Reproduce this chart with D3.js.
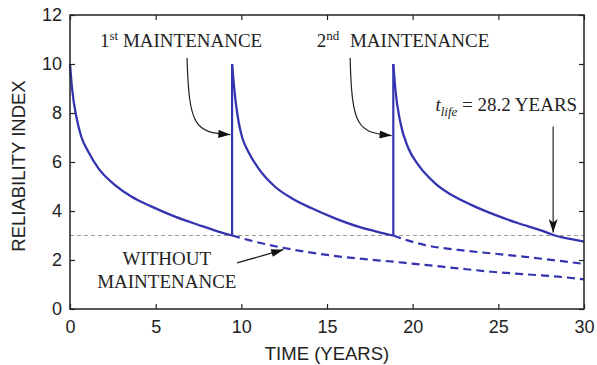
<!DOCTYPE html>
<meta charset="utf-8">
<html>
<head>
    <script src="https://d3js.org/d3.v7.min.js"></script>
</head>
<style>
    body { margin: 0; background: white; }
    .tick text { font: 18px "Liberation Sans", Arial, sans-serif; fill: #222; }
    .axislabel { font: 18.5px "Liberation Sans", Arial, sans-serif; fill: #222; }
    .note { font: 19px "Liberation Serif", "Times New Roman", serif; fill: #222; }
</style>
<body>
<div id="chartdiv"></div>
<script>

// values: time in years, reliability index
var xTicks = [0, 5, 10, 15, 20, 25, 30];
var yTicks = [0, 2, 4, 6, 8, 10, 12];
var threshold = 3;
var maintTimes = [9.46, 18.87];
var tLife = 28.2;

// solid curve, one piece between maintenances
var seg1 = [[0, 10], [0.12, 9.0], [0.4, 7.75], [0.65, 7.05], [1.07, 6.42], [1.66, 5.74],
    [2.63, 5.06], [3.6, 4.58], [4.77, 4.18], [6.13, 3.77], [7.5, 3.43], [8.66, 3.16], [9.46, 3.0]];
var seg2 = [[9.46, 10], [9.6, 8.9], [9.85, 7.6], [10.05, 7.0], [10.41, 6.42], [11.0, 5.74],
    [11.97, 4.99], [12.94, 4.52], [14.11, 4.11], [15.47, 3.70], [16.83, 3.36], [18.0, 3.14], [18.87, 3.0]];
var seg3 = [[18.87, 10], [19.0, 8.9], [19.27, 7.65], [19.75, 6.56], [20.33, 5.88], [21.31, 5.13],
    [22.28, 4.65], [23.45, 4.24], [24.81, 3.84], [26.17, 3.5], [27.53, 3.2], [28.3, 3.0], [29.1, 2.87], [30, 2.75]];

// dashed curves, no maintenance
var noMaint1 = [[9.46, 3.0], [10.5, 2.8], [12.5, 2.49], [15.4, 2.17], [18.87, 1.93],
    [20.72, 1.8], [22.5, 1.67], [24.6, 1.52], [26.5, 1.42], [28.5, 1.32], [30, 1.21]];
var noMaint2 = [[18.87, 3.0], [19.7, 2.8], [20.72, 2.61], [22.67, 2.41], [24.6, 2.27],
    [26.56, 2.13], [28.5, 1.97], [30, 1.84]];

// chart size
var width = 597, height = 365;
var margin = {left: 70, right: 13, top: 15, bottom: 56};
var plot = {width: width - margin.left - margin.right, height: height - margin.top - margin.bottom};

var svg = d3.select("#chartdiv")
    .append("svg")
        .attr("width", width)
        .attr("height", height);

var defs = svg.append("defs");
defs.append("marker")
    .attr("id", "head")
    .attr("viewBox", "0 0 12 8")
    .attr("refX", 12).attr("refY", 4)
    .attr("markerWidth", 13).attr("markerHeight", 8)
    .attr("markerUnits", "userSpaceOnUse")
    .attr("orient", "auto")
    .append("path").attr("d", "M0,0 L12,4 L0,8 Z").attr("fill", "#111");
defs.append("marker")
    .attr("id", "headNarrow")
    .attr("viewBox", "0 0 12 8")
    .attr("refX", 12).attr("refY", 4)
    .attr("markerWidth", 15).attr("markerHeight", 9)
    .attr("markerUnits", "userSpaceOnUse")
    .attr("orient", "auto")
    .append("path").attr("d", "M0,0 L12,4 L0,8 L3,4 Z").attr("fill", "#111");

var g = svg.append("g")
    .attr("transform", "translate(" + margin.left + "," + margin.top + ")");

var x = d3.scaleLinear().domain([0, 30]).range([0, plot.width]);
var y = d3.scaleLinear().domain([0, 12]).range([plot.height, 0]);

// threshold line
g.append("line")
    .attr("x1", x(0)).attr("x2", x(30))
    .attr("y1", y(threshold)).attr("y2", y(threshold))
    .attr("stroke", "#9a9a9a").attr("stroke-width", 1)
    .attr("stroke-dasharray", "4,3");

var line = d3.line()
    .x(function(d) { return x(d[0]); })
    .y(function(d) { return y(d[1]); })
    .curve(d3.curveMonotoneX);

var blue = "#3434b0";

// dashed curves
[noMaint1, noMaint2].forEach(function(s) {
    g.append("path").datum(s)
        .attr("d", line)
        .attr("fill", "none").attr("stroke", blue)
        .attr("stroke-width", 2.2).attr("stroke-dasharray", "8,5");
});

// solid curve pieces plus the jumps at maintenance
var segs = [seg1, seg2, seg3];
segs.forEach(function(s) {
    g.append("path").datum(s)
        .attr("d", line)
        .attr("fill", "none").attr("stroke", blue)
        .attr("stroke-width", 2.3).attr("stroke-linejoin", "round");
});
for (var i = 0; i < segs.length - 1; i++) {
    var a = segs[i][segs[i].length - 1], b = segs[i + 1][0];
    g.append("line")
        .attr("x1", x(a[0])).attr("y1", y(a[1]))
        .attr("x2", x(b[0])).attr("y2", y(b[1]))
        .attr("stroke", blue).attr("stroke-width", 2.2);
}

// axes, ticks inside on all four sides
function styleAxis(sel) {
    sel.select(".domain").remove();
    sel.selectAll(".tick line").attr("stroke", "#222").attr("stroke-width", 1.2);
}
g.append("g").attr("transform", "translate(0," + plot.height + ")")
    .call(d3.axisBottom(x).tickValues(xTicks).tickSize(-5).tickPadding(11))
    .call(styleAxis);
g.append("g")
    .call(d3.axisLeft(y).tickValues(yTicks).tickSize(-5).tickPadding(8))
    .call(styleAxis);
g.append("g")
    .call(d3.axisTop(x).tickValues(xTicks).tickSize(-5).tickFormat(""))
    .call(styleAxis);
g.append("g").attr("transform", "translate(" + plot.width + ",0)")
    .call(d3.axisRight(y).tickValues(yTicks).tickSize(-5).tickFormat(""))
    .call(styleAxis);
g.append("rect")
    .attr("width", plot.width).attr("height", plot.height)
    .attr("fill", "none").attr("stroke", "#222").attr("stroke-width", 1.5);

// axis titles
svg.append("text").attr("class", "axislabel")
    .attr("x", margin.left + plot.width / 2).attr("y", 360)
    .attr("text-anchor", "middle")
    .text("TIME (YEARS)");
svg.append("text").attr("class", "axislabel")
    .attr("transform", "translate(25," + (margin.top + plot.height / 2 + 4) + ") rotate(-90)")
    .attr("text-anchor", "middle")
    .text("RELIABILITY INDEX");

// maintenance labels
var maintLabels = [{t: 1.75, v: 10.68, n: "1", sup: "st", gap: 0},
    {t: 14.4, v: 10.68, n: "2", sup: "nd", gap: 6}];
maintLabels.forEach(function(d) {
    var txt = g.append("text").attr("class", "note")
        .attr("x", x(d.t)).attr("y", y(d.v));
    txt.append("tspan").text(d.n);
    txt.append("tspan").attr("dy", -7).style("font-size", "13px").text(d.sup);
    txt.append("tspan").attr("dy", 7).attr("dx", d.gap).text(" MAINTENANCE");
});

// curved arrows pointing at the jumps
var maintArrows = [
    {start: [6.83, 10.25], c1: [6.95, 7.4], c2: [7.3, 7.2], tip: [9.36, 7.12]},
    {start: [16.35, 10.25], c1: [16.45, 7.4], c2: [16.8, 7.2], tip: [18.77, 7.08]}
];
maintArrows.forEach(function(d) {
    g.append("path")
        .attr("d", "M" + x(d.start[0]) + "," + y(d.start[1]) +
            " C" + x(d.c1[0]) + "," + y(d.c1[1]) + " " + x(d.c2[0]) + "," + y(d.c2[1]) +
            " " + x(d.tip[0]) + "," + y(d.tip[1]))
        .attr("fill", "none").attr("stroke", "#222").attr("stroke-width", 1.2)
        .attr("marker-end", "url(#head)");
});

// t_life label and arrow
var lifeText = g.append("text").attr("class", "note")
    .attr("x", x(29.6)).attr("y", y(8.08))
    .attr("text-anchor", "end");
lifeText.append("tspan").style("font-style", "italic").text("t");
lifeText.append("tspan").attr("dy", 5).style("font-style", "italic").style("font-size", "13px").text("life");
lifeText.append("tspan").attr("dy", -5).text(" = " + tLife + " YEARS");

g.append("line")
    .attr("x1", x(tLife)).attr("y1", y(7.45))
    .attr("x2", x(tLife)).attr("y2", y(3.12))
    .attr("stroke", "#222").attr("stroke-width", 1.2)
    .attr("marker-end", "url(#headNarrow)");

// without maintenance label and arrow
var woText = g.append("text").attr("class", "note").attr("text-anchor", "middle");
woText.append("tspan").attr("x", x(5.65)).attr("y", y(1.8)).text("WITHOUT");
woText.append("tspan").attr("x", x(5.65)).attr("y", y(0.84)).text("MAINTENANCE");

g.append("line")
    .attr("x1", x(9.75)).attr("y1", y(1.88))
    .attr("x2", x(12.45)).attr("y2", y(2.42))
    .attr("stroke", "#222").attr("stroke-width", 1.3)
    .attr("marker-end", "url(#head)");

</script>
</body>
</html>
